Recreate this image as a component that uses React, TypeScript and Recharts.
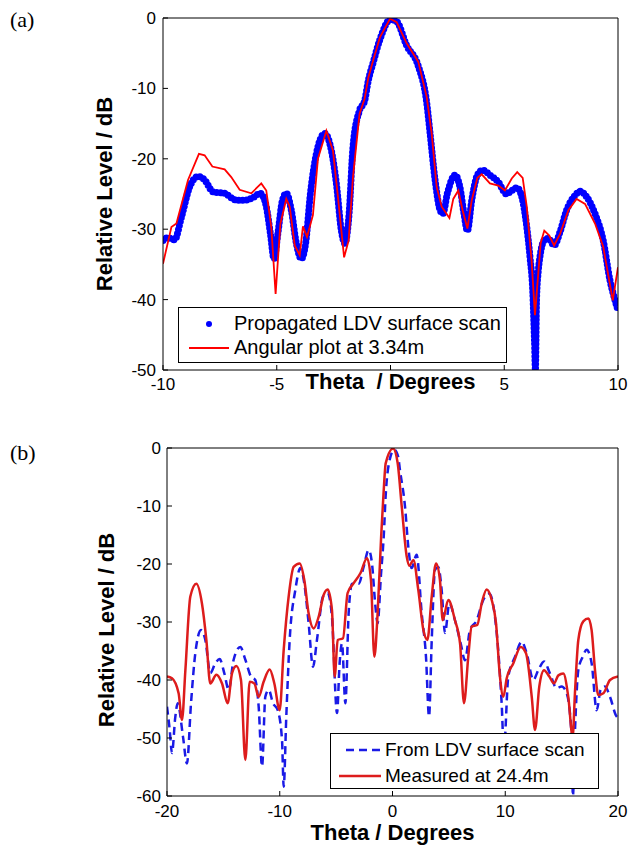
import { LineChart, Line, XAxis, YAxis, Legend } from "recharts"

// (a) measured at 3.34 m vs propagated scan
const thetaRedA = [-10, -9.63, -9.41, -8.9, -8.42, -8.17, -7.83, -7.29, -7.0, -6.63, -6.12, -5.68, -5.46, -5.24, -5.05, -4.84, -4.58, -4.43, -4.21, -3.99, -3.85, -3.67, -3.41, -3.19, -2.82, -2.53, -2.31, -2.04, -1.84, -1.65, -1.36, -1.14, -0.97, -0.76, -0.46, -0.02, 0.27, 0.71, 1.22, 1.59, 1.81, 2.03, 2.25, 2.59, 2.76, 2.98, 3.17, 3.38, 3.57, 3.82, 4.01, 4.37, 4.74, 5.03, 5.33, 5.57, 5.81, 5.99, 6.2, 6.35, 6.6, 6.76, 6.98, 7.19, 7.45, 7.82, 8.18, 8.55, 8.99, 9.35, 9.77, 10]
const levelRedA = [-34.9, -29.7, -29.2, -23.0, -19.3, -19.5, -21.1, -21.5, -22.6, -24.4, -24.9, -23.5, -24.5, -29.7, -39.2, -29.2, -25.7, -26.8, -32.3, -33.7, -29.6, -31.1, -28.0, -20.0, -16.0, -18.8, -25.4, -34.0, -31.6, -22.6, -13.6, -11.5, -8.4, -6.0, -2.7, -0.1, -0.6, -3.6, -6.2, -11.2, -16.4, -24.0, -26.8, -28.4, -25.7, -24.5, -27.3, -29.9, -25.9, -22.7, -22.2, -23.5, -23.8, -24.5, -22.8, -21.9, -22.7, -26.8, -34.4, -42.2, -32.0, -30.2, -30.9, -32.3, -30.7, -27.3, -25.7, -26.4, -29.2, -32.5, -40.1, -35.4]

const thetaBlueA = [-10, -9.78, -9.49, -9.19, -8.83, -8.46, -8.17, -7.8, -7.29, -6.85, -6.48, -6.04, -5.72, -5.46, -5.28, -5.12, -4.95, -4.75, -4.58, -4.36, -4.14, -3.92, -3.73, -3.52, -3.26, -2.89, -2.6, -2.38, -2.16, -2.01, -1.82, -1.65, -1.36, -1.14, -0.97, -0.76, -0.46, 0, 0.27, 0.71, 1.22, 1.59, 1.74, 1.96, 2.18, 2.3, 2.5, 2.84, 3.05, 3.23, 3.38, 3.57, 3.82, 4.05, 4.37, 4.74, 5.1, 5.33, 5.55, 5.77, 5.99, 6.13, 6.25, 6.33, 6.37, 6.42, 6.5, 6.57, 6.75, 6.94, 7.19, 7.45, 7.74, 8.11, 8.33, 8.62, 8.99, 9.35, 9.65, 9.87, 10]
const levelBlueA = [-31.6, -31.2, -31.5, -28.3, -24.0, -22.5, -23.0, -24.7, -24.9, -25.8, -25.9, -25.5, -24.9, -26.8, -30.6, -34.2, -30.6, -25.9, -24.9, -27.3, -32.0, -34.2, -32.0, -24.9, -19.3, -16.4, -18.8, -23.5, -30.2, -32.0, -27.8, -18.3, -13.1, -11.8, -8.8, -6.3, -3.0, -0.2, -0.5, -3.9, -6.8, -12.0, -16.4, -23.0, -27.3, -27.8, -24.9, -22.3, -24.0, -27.8, -30.2, -25.9, -22.3, -21.6, -22.3, -23.3, -25.0, -24.5, -24.1, -25.4, -29.7, -33.9, -38.7, -46.0, -50.0, -40.0, -35.8, -33.9, -31.6, -31.3, -32.3, -30.4, -27.3, -25.2, -24.6, -25.4, -27.8, -31.6, -37.3, -40.1, -41.5]

// (b) measured at 24.4 m vs LDV scan
const thetaRedB = [-20, -19.56, -18.97, -18.67, -18.37, -17.93, -17.4, -16.9, -16.51, -16.16, -15.62, -15.12, -14.62, -14.23, -13.85, -13.44, -13.05, -12.67, -12.25, -11.87, -11.43, -10.89, -10.48, -10.01, -9.65, -9.21, -8.77, -8.23, -7.82, -7.44, -6.99, -6.55, -6.1, -5.75, -5.37, -5.13, -4.86, -4.39, -3.98, -3.44, -2.85, -2.26, -1.91, -1.61, -1.32, -1.0, -0.8, -0.6, 0.05, 0.45, 0.82, 1.26, 1.5, 1.85, 2.29, 2.74, 3.09, 3.48, 3.86, 4.21, 4.45, 4.95, 5.54, 5.99, 6.34, 6.72, 7.02, 7.52, 7.91, 8.35, 8.8, 9.18, 9.53, 9.83, 10.13, 10.72, 11.37, 11.84, 12.35, 12.64, 13.02, 13.44, 13.91, 14.32, 14.71, 15.15, 15.59, 15.98, 16.18, 16.48, 16.92, 17.37, 17.66, 17.96, 18.25, 18.7, 19.29, 20]
const levelRedB = [-39.4, -39.7, -42.3, -46.9, -38.3, -25.6, -23.4, -26.8, -33.1, -40.6, -39.1, -40.6, -44.0, -38.8, -37.6, -40.0, -53.8, -40.3, -40.6, -42.9, -40.3, -38.2, -40.6, -45.2, -34.8, -25.6, -20.5, -19.9, -22.8, -28.5, -31.1, -29.1, -25.3, -24.4, -27.9, -39.4, -33.1, -32.8, -25.0, -23.3, -21.6, -19.0, -22.8, -36.0, -28.5, -15.0, -8.0, -2.6, -0.1, -2.5, -10.1, -18.7, -20.3, -19.3, -24.5, -31.4, -33.1, -25.6, -19.9, -22.8, -29.7, -26.2, -29.7, -33.7, -44.0, -36.0, -30.8, -30.5, -26.8, -24.4, -26.2, -30.2, -39.4, -42.9, -39.7, -37.1, -34.3, -35.4, -42.9, -48.6, -41.1, -38.3, -39.4, -40.6, -39.2, -38.9, -42.9, -49.8, -42.3, -33.1, -29.9, -29.4, -31.4, -38.3, -42.6, -42.3, -40.0, -39.4]

const thetaBlueB = [-20, -19.76, -19.56, -19.26, -19.05, -18.58, -18.23, -17.87, -17.49, -16.98, -16.6, -16.16, -15.71, -15.33, -14.92, -14.53, -14.09, -13.5, -13.05, -12.55, -12.17, -11.87, -11.57, -11.28, -10.98, -10.6, -10.18, -9.8, -9.65, -9.42, -9.12, -8.62, -8.17, -7.82, -7.44, -7.05, -6.7, -6.16, -5.75, -5.37, -4.92, -4.69, -4.48, -4.18, -3.89, -3.59, -3.0, -2.56, -2.11, -1.82, -1.52, -1.32, -1.02, -0.78, -0.6, -0.3, 0.15, 0.5, 0.66, 1.11, 1.4, 1.7, 2.14, 2.59, 2.97, 3.24, 3.48, 3.77, 4.06, 4.36, 4.66, 5.04, 5.54, 6.05, 6.43, 6.87, 7.47, 8.05, 8.59, 9.0, 9.3, 9.68, 9.88, 10.27, 10.87, 11.46, 11.9, 12.49, 12.93, 13.44, 13.95, 14.56, 15.0, 15.45, 15.89, 16.0, 16.2, 16.48, 16.87, 17.22, 17.66, 18.11, 18.46, 18.85, 19.29, 19.88, 20]
const levelBlueB = [-44.6, -48.6, -52.6, -46.3, -44.0, -49.8, -54.4, -44.0, -35.4, -31.4, -33.1, -38.8, -37.1, -36.4, -38.8, -41.7, -36.5, -34.3, -36.5, -39.4, -40.0, -44.6, -54.9, -42.9, -41.7, -44.0, -45.2, -50.3, -58.4, -46.3, -33.1, -24.5, -20.7, -23.4, -30.2, -37.7, -33.1, -25.6, -25.0, -29.1, -45.7, -37.1, -33.7, -44.0, -28.5, -23.4, -23.4, -20.5, -17.6, -19.9, -27.2, -30.2, -21.8, -15.3, -8.0, -2.5, -0.3, -1.5, -3.8, -10.1, -17.0, -20.7, -18.4, -28.5, -36.0, -46.3, -33.1, -21.0, -20.5, -24.5, -31.9, -26.8, -29.7, -33.7, -36.6, -31.4, -29.7, -26.2, -25.1, -27.9, -33.1, -44.0, -52.0, -39.4, -36.0, -33.4, -35.4, -40.0, -38.3, -36.8, -38.8, -41.4, -41.1, -42.3, -49.8, -60.0, -48.0, -38.3, -36.0, -34.8, -37.1, -45.2, -41.7, -41.1, -42.9, -46.3, -46.5]

const thetaTicksA = [-10, -5, 0, 5, 10]
const levelTicksA = [0, -10, -20, -30, -40, -50]
const thetaTicksB = [-20, -10, 0, 10, 20]
const levelTicksB = [0, -10, -20, -30, -40, -50, -60]

const pts = (t: number[], l: number[]) => t.map((theta, i) => ({ theta, level: l[i] }))

const sans = "'Liberation Sans', Arial, sans-serif"
const serif = "'Liberation Serif', 'Times New Roman', serif"
const tickStyle = { fill: "#000", fontSize: 17, fontFamily: sans }
const titleStyle = { fill: "#000", fontSize: 22, fontWeight: 700, fontFamily: sans }

function LegendA() {
  return (
    <div style={{ position: "relative", width: 329, height: 56, border: "1px solid #000", background: "#fff", boxSizing: "border-box", fontFamily: sans, fontSize: 20, color: "#000" }}>
      <svg width={60} height={56} style={{ position: "absolute", left: 0, top: 0 }}>
        <circle cx={30} cy={16} r={3} fill="#0000ff" />
        <line x1={10} x2={50} y1={40} y2={40} stroke="#ff0000" strokeWidth={1.8} />
      </svg>
      <div style={{ position: "absolute", left: 55, top: 4, lineHeight: "23px", whiteSpace: "nowrap" }}>Propagated LDV surface scan</div>
      <div style={{ position: "absolute", left: 55, top: 28, lineHeight: "23px", whiteSpace: "nowrap" }}>Angular plot at 3.34m</div>
    </div>
  )
}

function LegendB() {
  return (
    <div style={{ position: "relative", width: 269, height: 56, border: "1px solid #000", background: "#fff", boxSizing: "border-box", fontFamily: sans, fontSize: 19, color: "#000" }}>
      <svg width={56} height={56} style={{ position: "absolute", left: 0, top: 0 }}>
        <line x1={15} x2={52} y1={16} y2={16} stroke="#1a1ae6" strokeWidth={2.5} strokeDasharray="8 5" />
        <line x1={8} x2={50} y1={42} y2={42} stroke="#dd1c1c" strokeWidth={2.5} />
      </svg>
      <div style={{ position: "absolute", left: 54, top: 5, lineHeight: "22px", whiteSpace: "nowrap" }}>From LDV surface scan</div>
      <div style={{ position: "absolute", left: 54, top: 31, lineHeight: "22px", whiteSpace: "nowrap" }}>Measured at 24.4m</div>
    </div>
  )
}

export default function App() {
  return (
    <div style={{ position: "absolute", left: 0, top: 0, width: 630, height: 845, background: "#fff", overflow: "hidden" }}>
      <div style={{ position: "absolute", left: 10, top: 7, fontFamily: serif, fontSize: 22 }}>(a)</div>
      <div style={{ position: "absolute", left: 10, top: 440, fontFamily: serif, fontSize: 22 }}>(b)</div>

      <div style={{ position: "absolute", left: 0, top: 0 }}>
        <LineChart width={630} height={400} margin={{ top: 18, right: 12, bottom: 0, left: 53 }}>
          <XAxis xAxisId="b" dataKey="theta" type="number" domain={[-10, 10]} ticks={thetaTicksA} allowDataOverflow
            height={30} stroke="#000" tick={tickStyle} tickSize={-5} tickMargin={13}
            tickFormatter={(v) => (v === 0 ? "" : String(v))}
            label={{ value: "Theta\u00a0 / Degrees", position: "insideTop", offset: 3, style: titleStyle }} />
          <XAxis xAxisId="t" dataKey="theta" type="number" domain={[-10, 10]} ticks={thetaTicksA} orientation="top" mirror tick={false} tickSize={5} stroke="#000" />
          <YAxis yAxisId="l" type="number" domain={[-50, 0]} ticks={levelTicksA} allowDataOverflow width={110}
            stroke="#000" tick={tickStyle} tickSize={-5} tickMargin={12}
            label={{ value: "Relative Level / dB", angle: -90, position: "center", dx: -4, style: titleStyle }} />
          <YAxis yAxisId="r" type="number" domain={[-50, 0]} ticks={levelTicksA} orientation="right" mirror tick={false} tickSize={5} stroke="#000" />
          <Line xAxisId="b" yAxisId="l" data={pts(thetaBlueA, levelBlueA)} dataKey="level" type="monotone" stroke="#0000ff"
            strokeWidth={7} strokeDasharray="0 4" strokeLinecap="round" dot={false} isAnimationActive={false} />
          <Line xAxisId="b" yAxisId="l" data={pts(thetaRedA, levelRedA)} dataKey="level" type="linear" stroke="#ff0000"
            strokeWidth={1.8} dot={false} isAnimationActive={false} />
          <Legend content={() => <LegendA />} layout="horizontal" verticalAlign="middle" align="center"
            wrapperStyle={{ left: 178, top: 307, width: 329, height: 56 }} />
        </LineChart>
      </div>

      <div style={{ position: "absolute", left: 0, top: 420 }}>
        <LineChart width={630} height={425} margin={{ top: 28, right: 12, bottom: 0, left: 53 }}>
          <XAxis xAxisId="b" dataKey="theta" type="number" domain={[-20, 20]} ticks={thetaTicksB} allowDataOverflow
            height={49} stroke="#000" tick={tickStyle} tickSize={-5} tickMargin={14}
            label={{ value: "Theta / Degrees", position: "insideTop", offset: 28, style: titleStyle }} />
          <XAxis xAxisId="t" dataKey="theta" type="number" domain={[-20, 20]} ticks={thetaTicksB} orientation="top" mirror tick={false} tickSize={5} stroke="#000" />
          <YAxis yAxisId="l" type="number" domain={[-60, 0]} ticks={levelTicksB} allowDataOverflow width={114}
            stroke="#000" tick={tickStyle} tickSize={-5} tickMargin={11}
            label={{ value: "Relative Level / dB", angle: -90, position: "center", dx: -4, dy: 8, style: titleStyle }} />
          <YAxis yAxisId="r" type="number" domain={[-60, 0]} ticks={levelTicksB} orientation="right" mirror tick={false} tickSize={5} stroke="#000" />
          <Line xAxisId="b" yAxisId="l" data={pts(thetaBlueB, levelBlueB)} dataKey="level" type="monotone" stroke="#1a1ae6"
            strokeWidth={2.5} strokeDasharray="8 5" dot={false} isAnimationActive={false} />
          <Line xAxisId="b" yAxisId="l" data={pts(thetaRedB, levelRedB)} dataKey="level" type="monotone" stroke="#dd1c1c"
            strokeWidth={2.5} dot={false} isAnimationActive={false} />
          <Legend content={() => <LegendB />} layout="horizontal" verticalAlign="middle" align="center"
            wrapperStyle={{ left: 330, top: 313, width: 269, height: 56 }} />
        </LineChart>
      </div>
    </div>
  )
}
